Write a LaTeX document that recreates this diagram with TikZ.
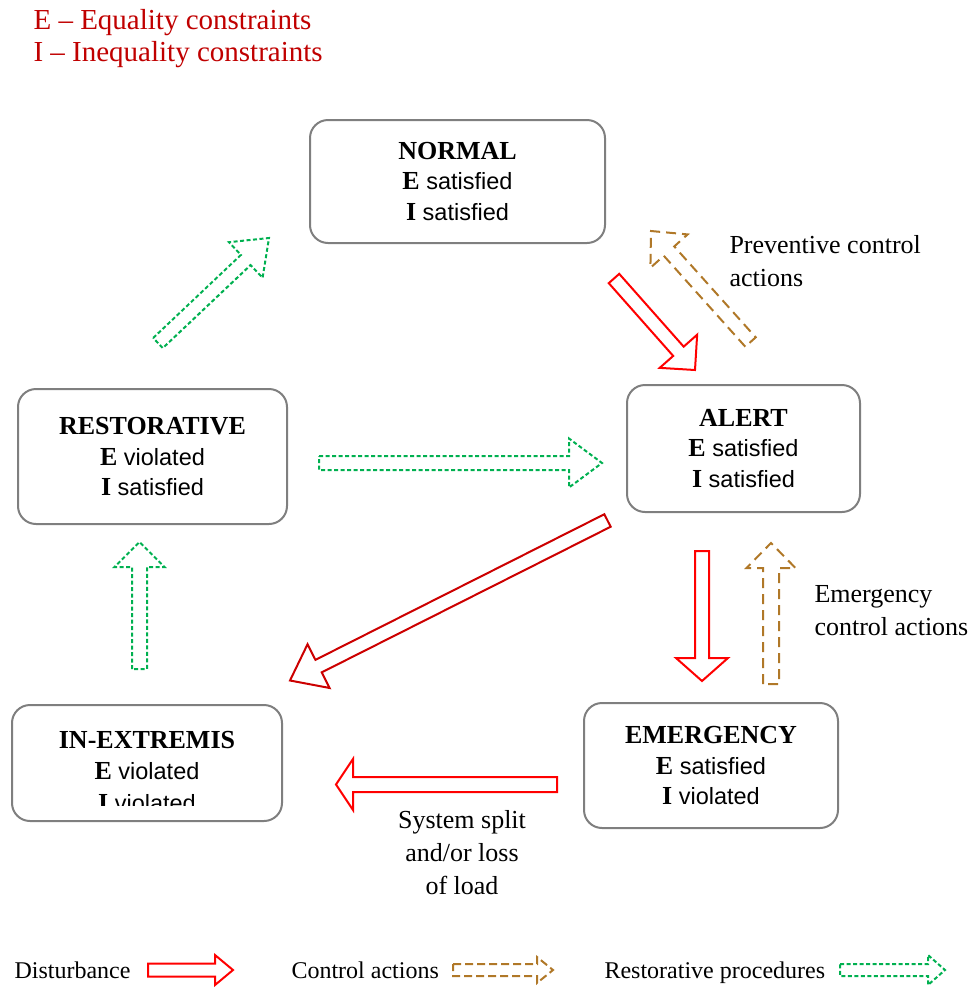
\documentclass[tikz,border=0pt]{standalone}
\usepackage{fontspec}
\setmainfont{Liberation Serif}
\newfontfamily\boxsans{Liberation Sans}
\usepackage{tikz}
\usetikzlibrary{calc}
\usepackage{xcolor}

\definecolor{boxgray}{RGB}{127,127,127}
\definecolor{titlered}{RGB}{192,0,0}
\definecolor{darkred}{RGB}{204,0,0}
\definecolor{ctrlbrown}{RGB}{176,120,40}
\definecolor{restgreen}{RGB}{0,176,80}

% plain words inside the state boxes
\newcommand{\stw}[1]{{\boxsans\fontsize{23.5}{30.5}\selectfont #1}}

% style, from, to, shaft half width, head half width, head length
\newcommand{\blockarrow}[6]{%
  \coordinate (bh) at ($(#3)!#6!(#2)$);
  \draw[#1] ($(#2)!#4!90:(#3)$) -- ($(bh)!#4!90:(#3)$) -- ($(bh)!#5!90:(#3)$) -- (#3)
    -- ($(bh)!#5!-90:(#3)$) -- ($(bh)!#4!-90:(#3)$) -- ($(#2)!#4!-90:(#3)$) -- cycle;
}

\tikzset{
  statebox/.style={draw=boxgray, line width=2pt, rounded corners=18pt, inner sep=0pt},
  statetext/.style={align=center, font=\fontsize{26}{30.5}\selectfont},
  lbltext/.style={align=left, anchor=west, font=\fontsize{26}{33}\selectfont},
  legendtext/.style={anchor=base west, font=\fontsize{24}{28}\selectfont},
  disturb/.style={draw=red, line width=2pt, line join=miter},
  ctrl/.style={draw=ctrlbrown, line width=2pt, line join=miter, dash pattern=on 10pt off 6pt},
  restore/.style={draw=restgreen, line width=2pt, line join=miter, dash pattern=on 4pt off 2.5pt},
}

\begin{document}
\begin{tikzpicture}[x=1pt, y=-1pt]
  \useasboundingbox (0,0) rectangle (978,989);

  % key
  \node[align=left, anchor=west, text=titlered, font=\fontsize{29}{32}\selectfont] (key) at (30,39)
    {E -- Equality constraints\\I -- Inequality constraints};

  % states
  \node[statebox, statetext, minimum width=295pt, minimum height=123pt] (normal) at (457.5,181.5)
    {\textbf{NORMAL}\\\textbf{E} \stw{satisfied}\\\textbf{I} \stw{satisfied}};
  \node[statebox, statetext, minimum width=233pt, minimum height=127pt] (alert) at (743.5,448.5)
    {\textbf{ALERT}\\\textbf{E} \stw{satisfied}\\\textbf{I} \stw{satisfied}};
  \node[statebox, statetext, minimum width=269pt, minimum height=135pt] (restor) at (152.5,456.5)
    {\textbf{RESTORATIVE}\\\textbf{E} \stw{violated}\\\textbf{I} \stw{satisfied}};
  \node[statebox, statetext, minimum width=254pt, minimum height=125pt] (emerg) at (711,765.5)
    {\textbf{EMERGENCY}\\\textbf{E} \stw{satisfied}\\\textbf{I} \stw{violated}};
  \node[statebox, minimum width=270pt, minimum height=116pt] (inex) at (147,763) {};
  \begin{scope}
    \clip (14,707) rectangle (280,805);
    \node[statetext, font=\fontsize{26}{31.5}\selectfont] (inextext) at (147,771)
      {\textbf{IN-EXTREMIS}\\\textbf{E} \stw{violated}\\\textbf{I} \stw{violated}};
  \end{scope}

  % arrow ends
  \coordinate (pRN) at (158,343);   \coordinate (qRN) at (269,238);
  \coordinate (pNA) at (614,278.5); \coordinate (qNA) at (695,370);
  \coordinate (pAN) at (750.5,342); \coordinate (qAN) at (651,231);
  \coordinate (pRA) at (319,463);   \coordinate (qRA) at (602,463);
  \coordinate (pAI) at (607.5,520.5); \coordinate (qAI) at (290,680.5);
  \coordinate (pAE) at (702,551);   \coordinate (qAE) at (702,681);
  \coordinate (pEA) at (771,684);   \coordinate (qEA) at (771,543);
  \coordinate (pIR) at (139.5,669); \coordinate (qIR) at (139.5,542);
  \coordinate (pEI) at (557,784.5); \coordinate (qEI) at (336,784.5);

  \blockarrow{restore}{pRN}{qRN}{7pt}{24.5pt}{32pt}
  \blockarrow{disturb}{pNA}{qNA}{7pt}{25pt}{25pt}
  \blockarrow{ctrl}{pAN}{qAN}{7pt}{25pt}{27pt}
  \blockarrow{restore}{pRA}{qRA}{7pt}{24.5pt}{33pt}
  \blockarrow{disturb, draw=darkred}{pAI}{qAI}{7pt}{24.5pt}{32pt}
  \blockarrow{disturb}{pAE}{qAE}{7pt}{26pt}{23pt}
  \blockarrow{ctrl}{pEA}{qEA}{8pt}{24.5pt}{25pt}
  \blockarrow{restore}{pIR}{qIR}{7.5pt}{25pt}{25pt}
  \blockarrow{disturb}{pEI}{qEI}{7.5pt}{25.5pt}{17pt}

  % labels
  \node[lbltext] (prevlbl) at (726,261.5) {Preventive control\\actions};
  \node[lbltext] (emerglbl) at (811,611) {Emergency\\control actions};
  \node[align=center, font=\fontsize{26}{33}\selectfont] (splitlbl) at (462,853)
    {System split\\and/or loss\\of load};

  % legend
  \node[legendtext] (lgdist) at (11,978) {Disturbance};
  \node[legendtext] (lgctrl) at (288,978) {Control actions};
  \node[legendtext] (lgrest) at (601,978) {Restorative procedures};
  \coordinate (pLD) at (148,970); \coordinate (qLD) at (233,970);
  \coordinate (pLC) at (453,970); \coordinate (qLC) at (553,970);
  \coordinate (pLR) at (840,970); \coordinate (qLR) at (945,970);
  \blockarrow{disturb}{pLD}{qLD}{6.5pt}{15pt}{18pt}
  \blockarrow{ctrl, dash pattern=on 8pt off 4pt}{pLC}{qLC}{6pt}{13pt}{16pt}
  \blockarrow{restore}{pLR}{qLR}{6pt}{15pt}{17pt}
\end{tikzpicture}
\end{document}
